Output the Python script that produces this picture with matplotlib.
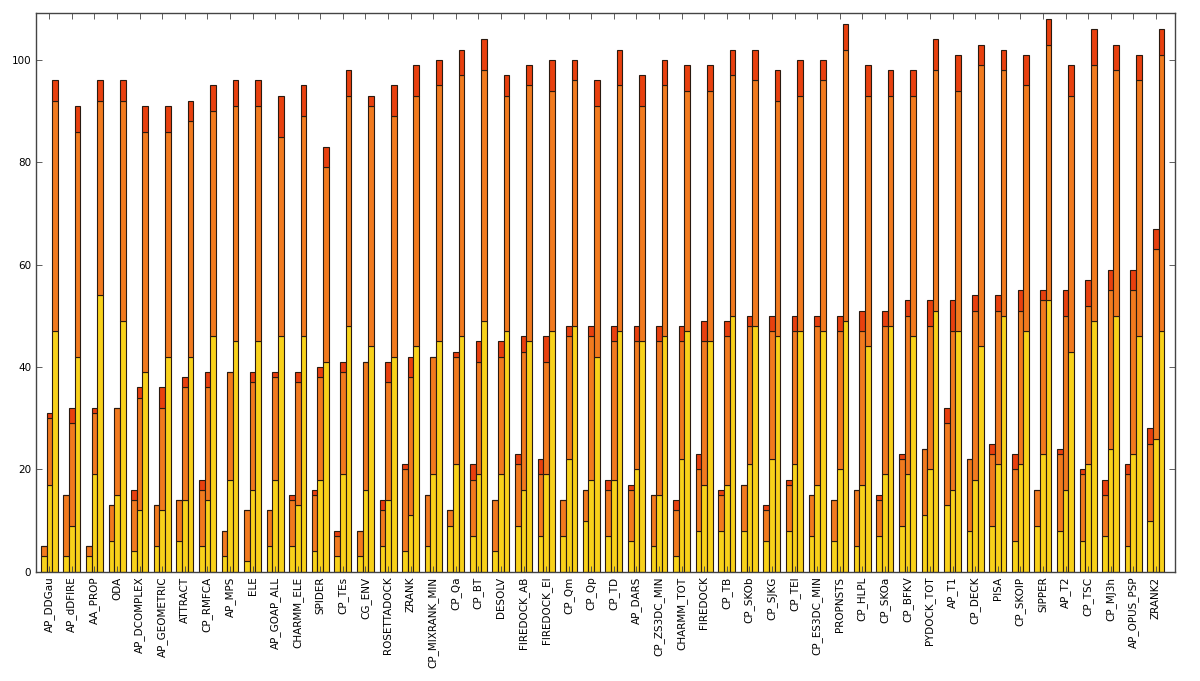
import numpy as np
import matplotlib
matplotlib.use("Agg")
import matplotlib.pyplot as plt

categories = ["AP_DDGau", "AP_dDFIRE", "AA_PROP", "ODA", "AP_DCOMPLEX", "AP_GEOMETRIC",
              "ATTRACT", "CP_RMFCA", "AP_MPS", "ELE", "AP_GOAP_ALL", "CHARMM_ELE",
              "SPIDER", "CP_TEs", "CG_ENV", "ROSETTADOCK", "ZRANK", "CP_MIXRANK_MIN",
              "CP_Qa", "CP_BT", "DESOLV", "FIREDOCK_AB", "FIREDOCK_EI", "CP_Qm", "CP_Qp",
              "CP_TD", "AP_DARS", "CP_ZS3DC_MIN", "CHARMM_TOT", "FIREDOCK", "CP_TB",
              "CP_SKOb", "CP_SJKG", "CP_TEI", "CP_ES3DC_MIN", "PROPNSTS", "CP_HLPL",
              "CP_SKOa", "CP_BFKV", "PYDOCK_TOT", "AP_T1", "CP_DECK", "PISA", "CP_SKOIP",
              "SIPPER", "AP_T2", "CP_TSC", "CP_MJ3h", "AP_OPUS_PSP", "ZRANK2"]

# Small bar (left of each group): yellow, orange, red segments
small_yellow = [3, 3, 3, 6, 4, 5, 6, 5, 3, 2, 5, 5, 4, 3, 3, 5, 4, 5, 9, 7, 4, 9, 7, 7, 10,
                7, 6, 5, 3, 8, 8, 8, 6, 8, 7, 6, 5, 7, 9, 11, 13, 8, 9, 6, 9, 8, 6, 7, 5, 10]
small_orange = [2, 12, 2, 7, 10, 8, 8, 11, 5, 10, 7, 9, 11, 4, 5, 7, 16, 10, 3, 11, 10, 12, 12, 7, 6,
                9, 10, 10, 9, 12, 7, 9, 6, 9, 8, 8, 11, 7, 13, 13, 16, 14, 14, 14, 7, 15, 13, 8, 14, 15]
small_red = [0, 0, 0, 0, 2, 0, 0, 2, 0, 0, 0, 1, 1, 1, 0, 2, 1, 0, 0, 3, 0, 2, 3, 0, 0,
             2, 1, 0, 2, 3, 1, 0, 1, 1, 0, 0, 0, 1, 1, 0, 3, 0, 2, 3, 0, 1, 1, 3, 2, 3]

# Middle bar
mid_yellow = [17, 9, 19, 15, 12, 12, 14, 14, 18, 16, 18, 13, 18, 19, 16, 14, 11, 19, 21, 19, 19, 16, 19, 22, 18,
              18, 20, 15, 22, 17, 17, 21, 22, 21, 17, 20, 17, 19, 19, 20, 16, 18, 21, 21, 23, 16, 21, 24, 23, 26]
mid_orange = [13, 20, 12, 17, 22, 20, 22, 22, 21, 21, 20, 24, 20, 20, 25, 23, 27, 23, 21, 22, 23, 27, 22, 24, 28,
              27, 25, 30, 23, 28, 29, 27, 25, 26, 31, 27, 30, 29, 31, 28, 31, 33, 30, 30, 30, 34, 31, 31, 32, 37]
mid_red = [1, 3, 1, 0, 2, 4, 2, 3, 0, 2, 1, 2, 2, 2, 0, 4, 4, 0, 1, 4, 3, 3, 5, 2, 2,
           3, 3, 3, 3, 4, 3, 2, 3, 3, 2, 3, 4, 3, 3, 5, 6, 3, 3, 4, 2, 5, 5, 4, 4, 4]

# Tall bar (right of each group)
tall_yellow = [47, 42, 54, 49, 39, 42, 42, 46, 45, 45, 46, 46, 41, 48, 44, 42, 44, 45, 46, 49, 47, 45, 47, 48, 42,
               47, 45, 46, 47, 45, 50, 48, 46, 47, 47, 49, 44, 48, 46, 51, 47, 44, 50, 47, 53, 43, 49, 50, 46, 47]
tall_orange = [45, 44, 38, 43, 47, 44, 46, 44, 46, 46, 39, 43, 38, 45, 47, 47, 49, 50, 51, 49, 46, 50, 47, 48, 49,
               48, 46, 49, 47, 49, 47, 48, 46, 46, 49, 53, 49, 45, 47, 47, 47, 55, 48, 48, 50, 50, 50, 48, 50, 54]
tall_red = [4, 5, 4, 4, 5, 5, 4, 5, 5, 5, 8, 6, 4, 5, 2, 6, 6, 5, 5, 6, 4, 4, 6, 4, 5,
            7, 6, 5, 5, 5, 5, 6, 6, 7, 4, 5, 6, 5, 5, 6, 7, 4, 4, 6, 5, 6, 7, 5, 5, 5]

YELLOW = "#f8d11a"
ORANGE = "#f17a1e"
RED = "#e8400e"
EDGE = "#2a1a10"

plt.rcParams['font.family'] = ['DejaVu Sans']
fig = plt.figure(figsize=(12, 6.81), dpi=100)
ax = fig.add_axes([0.030, 0.1605, 0.949, 0.82])

x = np.arange(len(categories))
w = 0.25
groups = [
    (x - w, small_yellow, small_orange, small_red),
    (x, mid_yellow, mid_orange, mid_red),
    (x + w, tall_yellow, tall_orange, tall_red),
]
for pos, yv, ov, rv in groups:
    yv = np.array(yv, float)
    ov = np.array(ov, float)
    rv = np.array(rv, float)
    ax.bar(pos, yv, w, color=YELLOW, edgecolor=EDGE, linewidth=0.8)
    ax.bar(pos, ov, w, bottom=yv, color=ORANGE, edgecolor=EDGE, linewidth=0.8)
    ax.bar(pos, rv, w, bottom=yv + ov, color=RED, edgecolor=EDGE, linewidth=0.8)

ax.set_xlim(-0.59, 49.84)
ax.set_ylim(0, 109.1)
ax.set_xticks(x)
ax.set_xticklabels(categories, rotation=90, fontsize=7.5)
ax.set_yticks([0, 20, 40, 60, 80, 100])
ax.tick_params(axis='both', direction='in', top=True, right=True, labelsize=7.5,
               length=4, width=0.6, color='#444444')
for s in ax.spines.values():
    s.set_color('#444444')
    s.set_linewidth(1.0)

fig.savefig("out.png", dpi=100)
